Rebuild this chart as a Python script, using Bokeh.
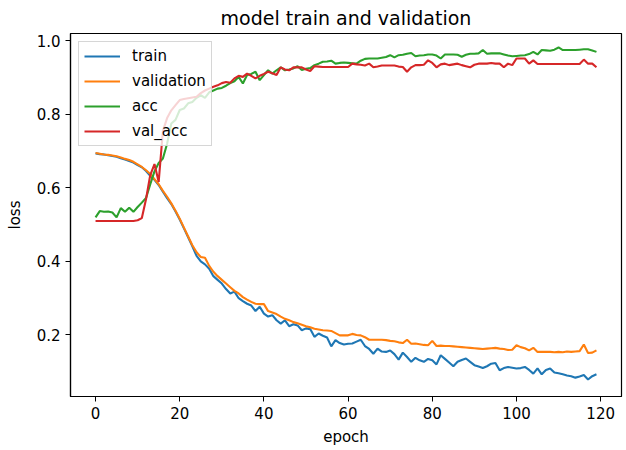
from bokeh.plotting import figure
from bokeh.models import Range1d, FixedTicker
from bokeh.embed import file_html
from bokeh.resources import INLINE

epochs = list(range(120))

train = [
    .694, .692, .691, .689, .687, .685, .681, .677, .673, .669,
    .662, .656, .646, .633, .622, .608, .590, .572, .556, .536,
    .514, .490, .466, .441, .415, .400, .392, .380, .360, .350,
    .340, .325, .313, .318, .300, .292, .285, .280, .265, .277,
    .258, .250, .254, .240, .231, .240, .224, .229, .226, .213,
    .218, .216, .195, .204, .198, .193, .169, .186, .178, .174,
    .176, .177, .182, .187, .170, .162, .149, .163, .155, .154,
    .158, .148, .133, .152, .140, .127, .138, .131, .127, .135,
    .131, .120, .145, .135, .125, .115, .127, .132, .136, .127,
    .118, .114, .110, .115, .122, .124, .104, .110, .113, .111,
    .109, .110, .113, .105, .095, .109, .093, .105, .109, .098,
    .096, .093, .090, .088, .084, .087, .091, .079, .088, .093,
]

validation = [
    .695, .693, .691, .690, .688, .686, .683, .679, .676, .671,
    .664, .657, .648, .638, .624, .610, .592, .576, .558, .538,
    .516, .492, .468, .444, .425, .412, .410, .388, .372, .360,
    .350, .340, .330, .320, .313, .303, .296, .290, .285, .284,
    .284, .265, .261, .257, .250, .244, .240, .235, .232, .228,
    .224, .221, .217, .215, .213, .212, .211, .205, .199, .199,
    .199, .203, .200, .199, .194, .187, .187, .187, .187, .186,
    .184, .183, .180, .178, .187, .176, .177, .175, .173, .172,
    .184, .170, .171, .170, .170, .169, .168, .167, .166, .165,
    .164, .163, .162, .163, .164, .165, .163, .162, .159, .160,
    .172, .167, .164, .158, .165, .154, .154, .154, .154, .153,
    .154, .153, .155, .154, .155, .156, .174, .151, .152, .158,
]

acc = [
    .520, .537, .535, .536, .533, .520, .545, .535, .546, .535,
    .548, .560, .573, .610, .645, .668, .680, .720, .775, .785,
    .812, .816, .830, .834, .845, .852, .845, .860, .865, .870,
    .872, .878, .885, .890, .902, .884, .907, .910, .916, .893,
    .907, .920, .911, .920, .928, .920, .922, .925, .931, .921,
    .924, .926, .934, .938, .943, .944, .946, .938, .940, .941,
    .940, .939, .938, .946, .951, .952, .952, .952, .954, .956,
    .961, .955, .961, .962, .965, .967, .958, .960, .961, .963,
    .963, .960, .952, .963, .963, .963, .962, .957, .962, .965,
    .965, .966, .975, .965, .966, .966, .966, .963, .960, .958,
    .959, .960, .961, .964, .970, .963, .975, .974, .973, .976,
    .982, .975, .975, .975, .975, .976, .977, .977, .974, .970,
]

val_acc = [
    .510, .510, .510, .510, .510, .510, .510, .510, .510, .510,
    .512, .518, .570, .635, .665, .616, .755, .790, .811, .825,
    .839, .842, .844, .846, .848, .858, .865, .870, .875, .879,
    .885, .888, .886, .898, .905, .902, .911, .905, .898, .905,
    .910, .916, .912, .907, .928, .922, .920, .928, .928, .928,
    .922, .918, .931, .930, .929, .929, .929, .929, .929, .929,
    .929, .938, .936, .935, .933, .938, .928, .930, .933, .933,
    .933, .933, .930, .929, .916, .928, .934, .934, .935, .947,
    .940, .928, .936, .938, .934, .936, .938, .934, .931, .928,
    .935, .938, .938, .938, .940, .938, .938, .928, .938, .934,
    .952, .952, .952, .938, .947, .937, .937, .937, .937, .937,
    .937, .937, .937, .937, .937, .937, .949, .938, .938, .928,
]

x_ticks = [0, 20, 40, 60, 80, 100, 120]
y_ticks = [0.2, 0.4, 0.6, 0.8, 1.0]

FONT = "DejaVu Sans"

p = figure(width=626, height=450, output_backend="svg", toolbar_location=None,
           x_range=Range1d(-5.95, 124.95), y_range=Range1d(0.0327, 1.020),
           title="model train and validation")
p.min_border_left = 70
p.min_border_right = 5
p.min_border_top = 33
p.min_border_bottom = 54

p.title.align = "center"
p.title.vertical_align = "top"
p.title.text_font = FONT
p.title.text_font_size = "19px"
p.title.text_font_style = "normal"
p.title.text_color = "#000000"
p.title.standoff = 5

p.xgrid.visible = False
p.ygrid.visible = False
p.outline_line_color = "#000000"
p.outline_line_width = 1.2

for ax in (p.xaxis[0], p.yaxis[0]):
    ax.major_label_text_font = FONT
    ax.major_label_text_font_size = "15px"
    ax.major_label_text_color = "#000000"
    ax.axis_label_text_font = FONT
    ax.axis_label_text_font_size = "15px"
    ax.axis_label_text_font_style = "normal"
    ax.axis_label_text_color = "#000000"
    ax.minor_tick_line_color = None
    ax.major_tick_in = 0
    ax.major_tick_out = 5
    ax.major_tick_line_color = "#000000"
    ax.axis_line_color = "#000000"
    ax.axis_line_width = 1.2
    ax.major_label_standoff = 5

p.xaxis[0].ticker = FixedTicker(ticks=x_ticks)
p.yaxis[0].ticker = FixedTicker(ticks=y_ticks)
p.yaxis[0].major_label_overrides = {v: f"{v:.1f}" for v in y_ticks}
p.xaxis[0].axis_label = "epoch"
p.yaxis[0].axis_label = "loss"
p.xaxis[0].axis_label_standoff = 6
p.yaxis[0].axis_label_standoff = 10

lw = 2.1
p.line(epochs, train, color="#1f77b4", line_width=lw, legend_label="train")
p.line(epochs, validation, color="#ff7f0e", line_width=lw, legend_label="validation")
p.line(epochs, acc, color="#2ca02c", line_width=lw, legend_label="acc")
p.line(epochs, val_acc, color="#d62728", line_width=lw, legend_label="val_acc")

lg = p.legend[0]
lg.location = "top_left"
lg.margin = 8
lg.padding = 5
lg.spacing = 7
lg.glyph_width = 36
lg.glyph_height = 18
lg.label_standoff = 12
lg.label_height = 18
lg.label_text_font = FONT
lg.label_text_font_size = "15px"
lg.label_text_color = "#000000"
lg.border_line_color = "#cccccc"
lg.border_line_alpha = 0.8
lg.background_fill_color = "#ffffff"
lg.background_fill_alpha = 0.8

open("out.html", "w").write(file_html(p, INLINE))
